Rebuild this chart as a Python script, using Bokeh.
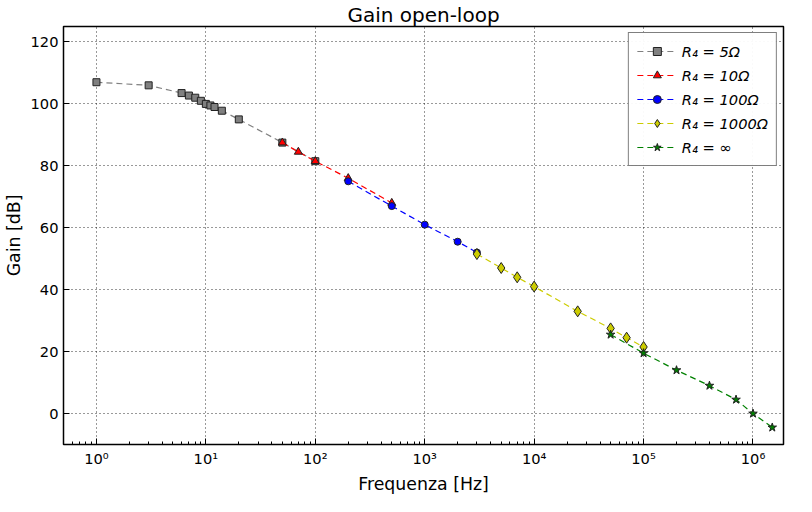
from bokeh.plotting import figure
from bokeh.models import Range1d, CustomJSTickFormatter, Legend
from bokeh.embed import file_html
from bokeh.resources import INLINE

# R4 = 5 ohm
f_5 = [1, 3, 6, 7, 8, 9, 10, 11, 12, 14, 20, 50, 100]
g_5 = [107, 106, 103.5, 102.7, 102, 101, 100, 99.5, 99, 97.8, 95, 87.5, 81.5]
# R4 = 10 ohm
f_10 = [50, 70, 100, 200, 500]
g_10 = [87.5, 84.5, 81.5, 76, 68]
# R4 = 100 ohm
f_100 = [200, 500, 1000, 2000, 3000]
g_100 = [75, 67, 61, 55.5, 52]
# R4 = 1000 ohm
f_1000 = [3000, 5000, 7000, 10000, 25000, 50000, 70000, 100000]
g_1000 = [51.5, 47, 44, 41, 33, 27.5, 24.5, 21.5]
# R4 = inf
f_inf = [50000, 100000, 200000, 400000, 700000, 1000000, 1500000]
g_inf = [25.5, 19.5, 14, 9, 4.5, 0, -4.5]

series = [
    ("R₄ = 5Ω", f_5, g_5, "gray", "square", 7),
    ("R₄ = 10Ω", f_10, g_10, "red", "triangle", 8),
    ("R₄ = 100Ω", f_100, g_100, "blue", "circle", 7),
    ("R₄ = 1000Ω", f_1000, g_1000, "#cccc00", "diamond", 11),
    ("R₄ = ∞", f_inf, g_inf, "green", "star", 9),
]

p = figure(width=796, height=496, x_axis_type="log",
           x_range=Range1d(0.5, 1.9e6), y_range=Range1d(-10, 125),
           title="Gain open-loop", output_backend="svg", toolbar_location=None,
           min_border_left=57, min_border_right=13, min_border_top=10, min_border_bottom=40)
p.title.align = "center"
p.title.text_font = "DejaVu Sans"
p.title.text_font_size = "15pt"
p.title.text_font_style = "normal"
p.title.text_color = "black"
p.title.standoff = 0
p.outline_line_color = "black"
p.outline_line_width = 1.5

items = []
for name, xs, ys, col, mk, sz in series:
    r1 = p.line(xs, ys, line_color=col, line_dash="6 4", line_width=1.2)
    r2 = p.scatter(xs, ys, marker=mk, size=sz, fill_color=col, line_color="#222222")
    items.append((name, [r1, r2]))

leg = Legend(items=items, location="top_right", border_line_color="black",
             label_text_font="DejaVu Sans", label_text_font_size="11pt",
             label_text_font_style="italic", label_text_color="black",
             glyph_width=40, spacing=4, padding=8, margin=6)
p.add_layout(leg)

for ax in (p.xaxis, p.yaxis):
    ax.axis_label_text_font = "DejaVu Sans"
    ax.axis_label_text_font_size = "13pt"
    ax.axis_label_text_font_style = "normal"
    ax.axis_label_text_color = "black"
    ax.axis_label_standoff = 4
    ax.major_label_text_font = "DejaVu Sans"
    ax.major_label_text_font_size = "11pt"
    ax.major_label_text_color = "black"
    ax.major_tick_in = 6
    ax.major_tick_out = 0
    ax.minor_tick_in = 3
    ax.minor_tick_out = 0
p.xaxis.axis_label = "Frequenza [Hz]"
p.yaxis.axis_label = "Gain [dB]"
p.yaxis.ticker = [0, 20, 40, 60, 80, 100, 120]
p.xaxis.ticker.desired_num_ticks = 8
p.xaxis.formatter = CustomJSTickFormatter(code="""
const sup = {'0':'⁰','1':'¹','2':'²','3':'³','4':'⁴','5':'⁵','6':'⁶','7':'⁷','-':'⁻'};
const e = Math.round(Math.log10(tick));
return '10' + String(e).split('').map(c => sup[c]).join('');
""")
p.grid.grid_line_color = "black"
p.grid.grid_line_dash = "1 3"
p.grid.grid_line_alpha = 0.8

open("out.html", "w").write(file_html(p, INLINE))
